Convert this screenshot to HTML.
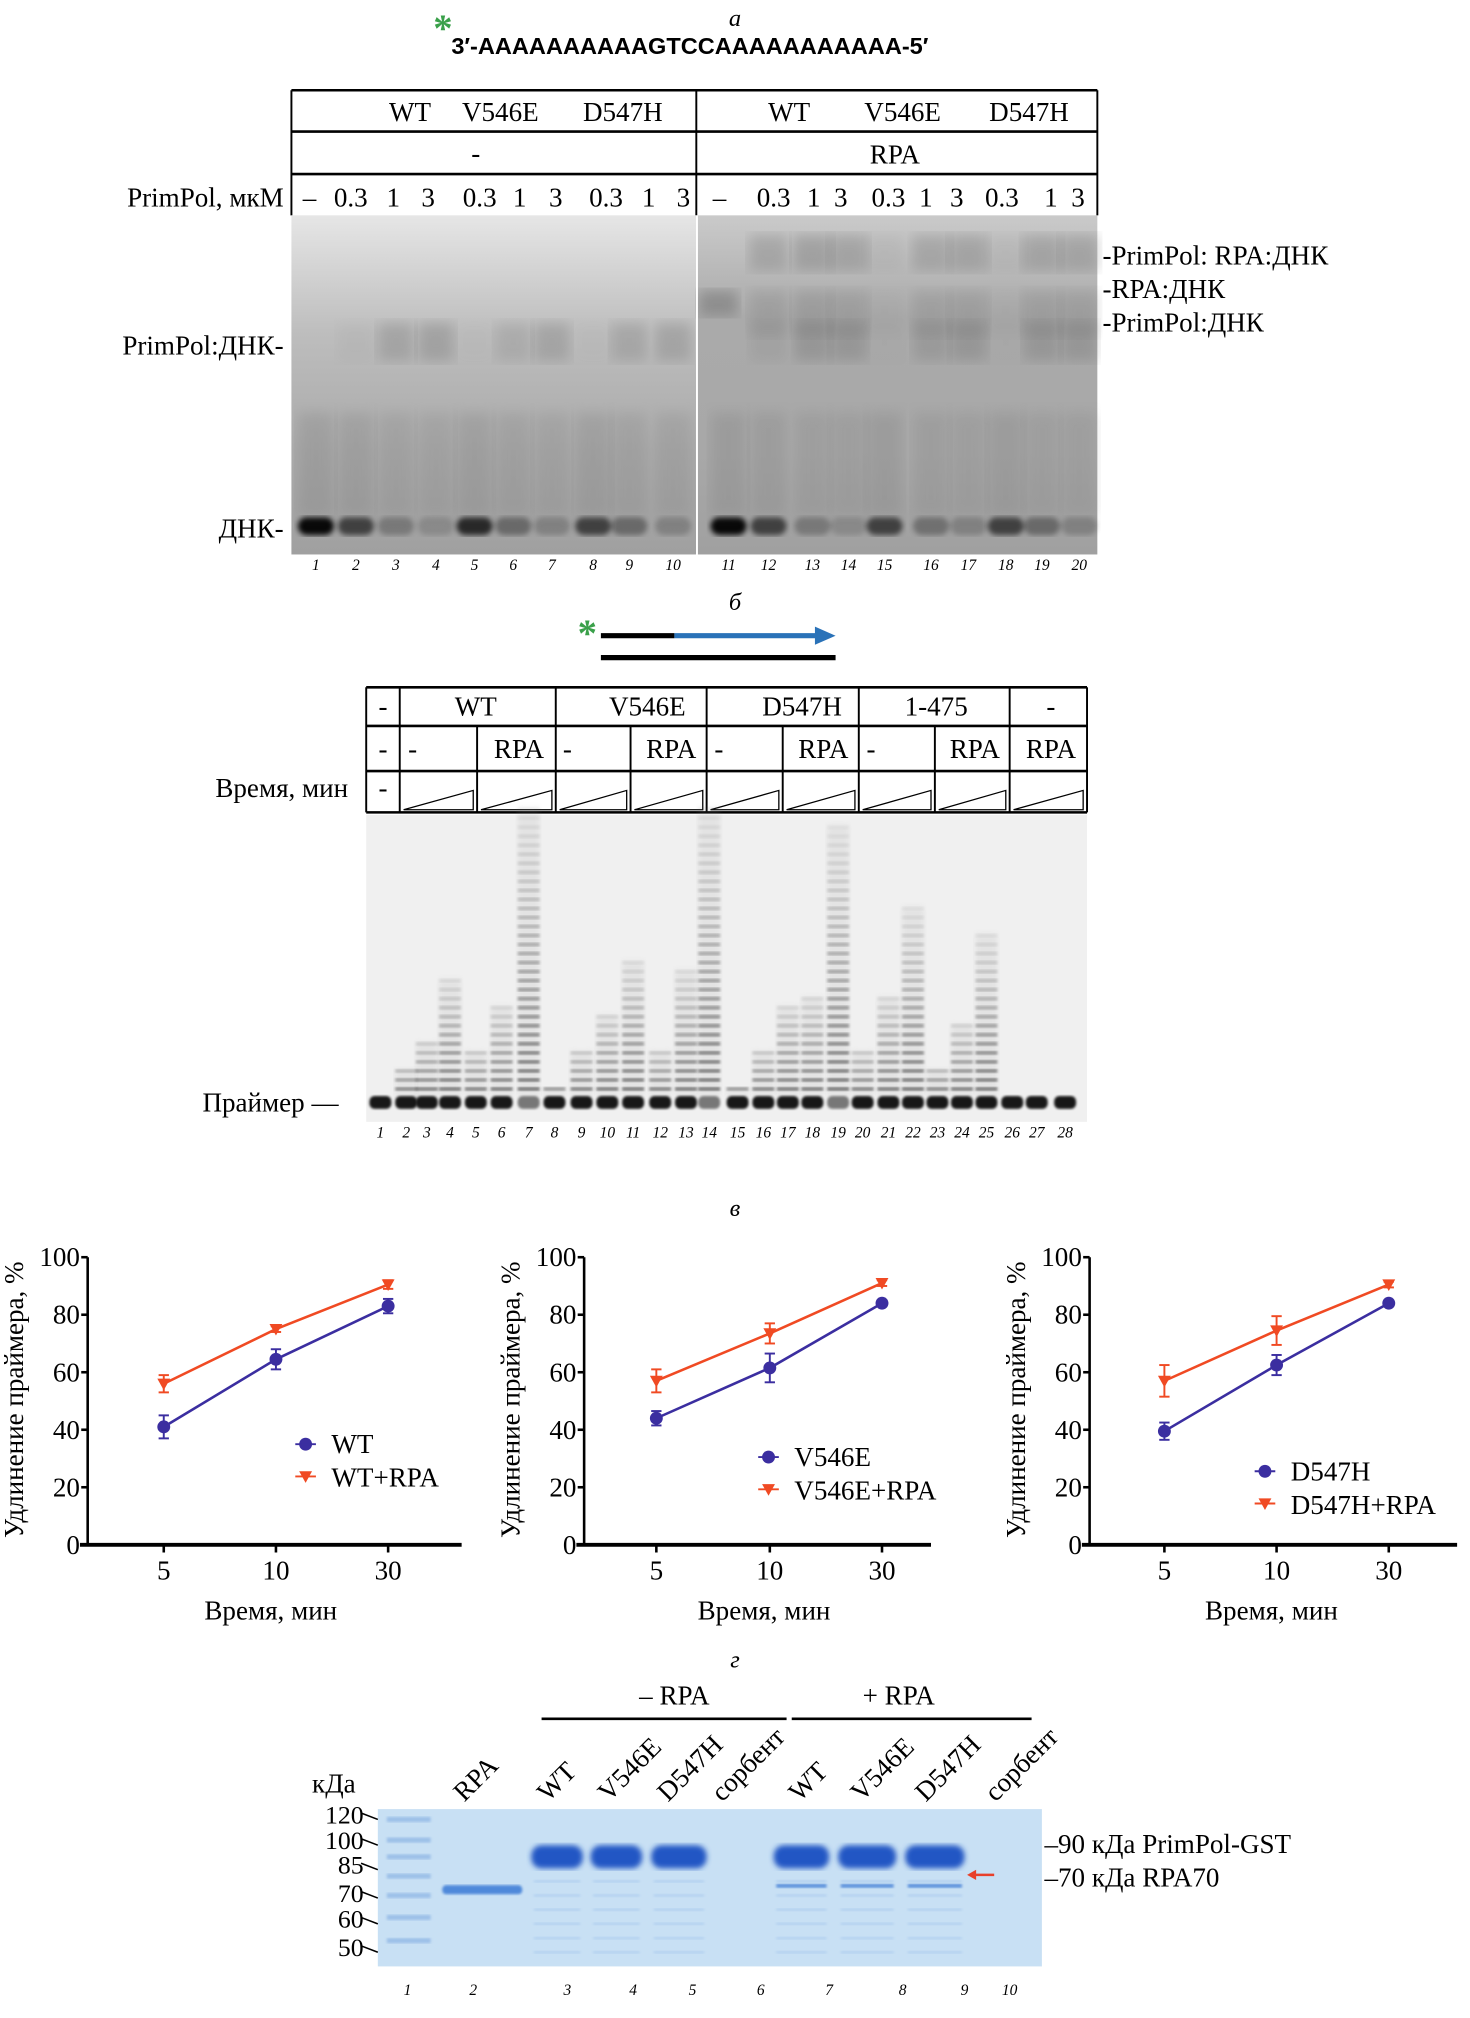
<!DOCTYPE html>
<html><head><meta charset="utf-8">
<style>
html,body{margin:0;padding:0;background:#fff;}
svg{display:block;font-family:"Liberation Serif","Noto Serif CJK SC",serif;}
</style></head>
<body>
<svg id="fig" width="1470" height="2018" viewBox="0 0 1140 1565" preserveAspectRatio="none" xmlns="http://www.w3.org/2000/svg">
<defs>
<filter id="bl2"><feGaussianBlur stdDeviation="2"/></filter>
<filter id="bl4"><feGaussianBlur stdDeviation="5"/></filter>
<filter id="bl1"><feGaussianBlur stdDeviation="1"/></filter>
<linearGradient id="gelA" x1="0" y1="0" x2="0" y2="1">
<stop offset="0" stop-color="#e6e6e6"/><stop offset="0.35" stop-color="#bdbdbd"/><stop offset="0.7" stop-color="#aaaaaa"/><stop offset="1" stop-color="#a0a0a0"/></linearGradient>
<linearGradient id="gelA2" x1="0" y1="0" x2="0" y2="1">
<stop offset="0" stop-color="#cacaca"/><stop offset="0.3" stop-color="#aaaaaa"/><stop offset="0.7" stop-color="#a8a8a8"/><stop offset="1" stop-color="#a0a0a0"/></linearGradient>
</defs>

<!-- PANEL A -->
<g>
<text x="570" y="20" font-size="19" font-style="italic" text-anchor="middle">а</text>
<text x="336" y="32" font-size="30" fill="#3aa04a" font-weight="bold">*</text>
<text x="350" y="42" font-size="18" font-weight="bold" font-family="Liberation Sans Narrow, Liberation Sans, sans-serif" textLength="370" lengthAdjust="spacingAndGlyphs">3′-AAAAAAAAAAGTCCAAAAAAAAAAA-5′</text>
<g stroke="#000" stroke-width="1.5">
<line x1="226" y1="70" x2="851" y2="70" stroke-width="2"/>
<line x1="226" y1="102" x2="851" y2="102" stroke-width="2"/>
<line x1="226" y1="135" x2="851" y2="135" stroke-width="2"/>
<line x1="226" y1="70" x2="226" y2="167"/>
<line x1="540" y1="70" x2="540" y2="167"/>
<line x1="851" y1="70" x2="851" y2="167"/>
</g>
<g font-size="21" text-anchor="middle">
<text x="318" y="94">WT</text><text x="388" y="94">V546E</text><text x="483" y="94">D547H</text>
<text x="612" y="94">WT</text><text x="700" y="94">V546E</text><text x="798" y="94">D547H</text>
<text x="369" y="126">-</text><text x="694" y="127">RPA</text>
</g>
<text x="220" y="160" font-size="21" text-anchor="end">PrimPol, мкМ</text>
<g font-size="21" text-anchor="middle" id="concRow"></g>
<rect x="226" y="167" width="314" height="263" fill="url(#gelA)"/>
<rect x="541" y="167" width="310" height="263" fill="url(#gelA2)"/>
<g id="gelAmarks"></g>
<line x1="540.5" y1="167" x2="540.5" y2="430" stroke="#fff" stroke-width="1.5"/>
<g font-size="21">
<text x="220" y="275" text-anchor="end">PrimPol:ДНК-</text>
<text x="220" y="417" text-anchor="end">ДНК-</text>
<text x="855" y="205">-PrimPol: RPA:ДНК</text>
<text x="855" y="231">-RPA:ДНК</text>
<text x="855" y="257">-PrimPol:ДНК</text>
</g>
<g id="laneNumsA" font-size="12" font-style="italic" text-anchor="middle"></g>
</g>

<!-- PANEL B -->
<g>
<text x="570" y="473" font-size="19" font-style="italic" text-anchor="middle">б</text>
<text x="448" y="501" font-size="30" fill="#3aa04a" font-weight="bold">*</text>
<line x1="466" y1="493" x2="523" y2="493" stroke="#000" stroke-width="4"/>
<line x1="523" y1="493" x2="636" y2="493" stroke="#2a72b8" stroke-width="4"/>
<polygon points="632,486 648,493 632,500" fill="#2a72b8"/>
<line x1="466" y1="510" x2="648" y2="510" stroke="#000" stroke-width="4"/>
<g stroke="#000" stroke-width="1.5" id="tableB">
<line x1="284" y1="533" x2="843" y2="533" stroke-width="2"/>
<line x1="284" y1="563" x2="843" y2="563" stroke-width="2"/>
<line x1="284" y1="598" x2="843" y2="598" stroke-width="2"/>
<line x1="284" y1="630" x2="843" y2="630" stroke-width="2"/>
</g>
<g font-size="21" text-anchor="middle" id="tableBtext">
<text x="297" y="555">-</text><text x="369" y="555">WT</text><text x="502" y="555">V546E</text><text x="622" y="555">D547H</text><text x="726" y="555">1-475</text><text x="815" y="555">-</text>
</g>
<text x="270" y="618" font-size="21" text-anchor="end">Время, мин</text>
<rect x="284" y="632" width="559" height="238" fill="#f0f0f0"/>
<g id="gelBmarks"></g>
<text x="157" y="862" font-size="21">Праймер —</text>
<g id="laneNumsB" font-size="12" font-style="italic" text-anchor="middle"></g>
</g>

<!-- PANEL C charts -->
<text x="570" y="943" font-size="19" font-style="italic" text-anchor="middle">в</text>
<g id="charts"></g>

<!-- PANEL D -->
<g>
<text x="570" y="1293" font-size="19" font-style="italic" text-anchor="middle">г</text>
<text x="523" y="1322" font-size="21" text-anchor="middle">– RPA</text>
<text x="697" y="1322" font-size="21" text-anchor="middle">+ RPA</text>
<line x1="420" y1="1333" x2="610" y2="1333" stroke="#000" stroke-width="2"/>
<line x1="614" y1="1333" x2="800" y2="1333" stroke="#000" stroke-width="2"/>
<g font-size="21" id="rotLabels"></g>
<text x="242" y="1390" font-size="21">кДа</text>
<rect x="293" y="1403" width="515" height="122" fill="#c8e0f4"/>
<g id="gelDmarks"></g>
<g font-size="20" text-anchor="end" id="mwLabels"></g>
<line x1="752" y1="1454" x2="771" y2="1454" stroke="#e8402a" stroke-width="2"/>
<polygon points="750,1454 757,1450 757,1458" fill="#e8402a"/>
<text x="810" y="1437" font-size="21">–90 кДа PrimPol-GST</text>
<text x="810" y="1463" font-size="21">–70 кДа RPA70</text>
<g id="laneNumsD" font-size="12" font-style="italic" text-anchor="middle"></g>
</g>
</svg>

<script>
// ===== Chart data =====
var timeLabels = ["5", "10", "30"];
var yTicks = [0, 20, 40, 60, 80, 100];
var seriesNames = ["WT", "WT+RPA", "V546E", "V546E+RPA", "D547H", "D547H+RPA"];
var wtValues = [41, 64.5, 83];
var wtErrors = [4, 3.5, 2.5];
var wtRpaValues = [56, 75, 90.5];
var wtRpaErrors = [3, 1, 1.5];
var v546eValues = [44, 61.5, 84];
var v546eErrors = [2.5, 5, 1];
var v546eRpaValues = [57, 73.5, 91];
var v546eRpaErrors = [4, 3.5, 1];
var d547hValues = [39.5, 62.5, 84];
var d547hErrors = [3, 3.5, 1];
var d547hRpaValues = [57, 74.5, 90.5];
var d547hRpaErrors = [5.5, 5, 1];

var NS = "http://www.w3.org/2000/svg";
function mk(tag, parent, attrs) {
  var e = document.createElementNS(NS, tag);
  for (var k in attrs) e.setAttribute(k, attrs[k]);
  parent.appendChild(e);
  return e;
}
function txt(parent, x, y, s, size, anchor, extra) {
  var t = mk("text", parent, {x: x, y: y, "font-size": size, "text-anchor": anchor || "start"});
  if (extra) for (var k in extra) t.setAttribute(k, extra[k]);
  t.textContent = s;
  return t;
}

// ===== Panel A details =====
var concA = [["–",240],["0.3",272],["1",305],["3",332],["0.3",372],["1",403],["3",431],["0.3",470],["1",503],["3",530],
             ["–",558],["0.3",600],["1",631],["3",652],["0.3",689],["1",718],["3",742],["0.3",777],["1",815],["3",836]];
var cr = document.getElementById("concRow");
concA.forEach(function (c) { txt(cr, c[1], 160, c[0], 21, "middle"); });
var lanesA = [245,276,307,338,368,398,428,460,488,522,565,596,630,658,686,722,751,780,808,837];
var dnaA = [0.95,0.6,0.25,0.15,0.75,0.35,0.2,0.6,0.35,0.2, 0.95,0.6,0.25,0.15,0.6,0.3,0.2,0.6,0.35,0.2];
var compA = [0,0.1,0.5,0.55,0.05,0.35,0.5,0.05,0.45,0.5, 0,0.2,0.5,0.5,0.05,0.4,0.5,0.05,0.5,0.5];
var rpaTop = [0,0,0,0,0,0,0,0,0,0, 0,0.5,0.6,0.55,0.15,0.5,0.55,0.15,0.55,0.55];
var gA = document.getElementById("gelAmarks");
lanesA.forEach(function (x, i) {
  mk("rect", gA, {x: x-14, y: 401, width: 28, height: 14, rx: 7, fill: "#000", opacity: dnaA[i], filter: "url(#bl2)"});
  mk("rect", gA, {x: x-14, y: 320, width: 28, height: 80, fill: "#666", opacity: 0.1 + 0.08*(1-compA[i]), filter: "url(#bl4)"});
  mk("rect", gA, {x: x-14, y: 250, width: 28, height: 30, fill: "#555", opacity: compA[i]*0.45, filter: "url(#bl4)"});
  if (rpaTop[i] > 0) {
    mk("rect", gA, {x: x-15, y: 182, width: 30, height: 28, fill: "#555", opacity: rpaTop[i]*0.45, filter: "url(#bl4)"});
    mk("rect", gA, {x: x-15, y: 225, width: 30, height: 35, fill: "#555", opacity: rpaTop[i]*0.3, filter: "url(#bl4)"});
  }
  txt(document.getElementById("laneNumsA"), x, 442, String(i+1), 12, "middle");
});
mk("rect", gA, {x: 542, y: 225, width: 30, height: 20, fill: "#444", opacity: 0.3, filter: "url(#bl4)"});

// ===== Panel B table =====
var tB = document.getElementById("tableB");
var vlinesFull = [284, 310, 431, 548, 666, 783, 843];
vlinesFull.forEach(function (x) { mk("line", tB, {x1: x, y1: 533, x2: x, y2: 630}); });
var subLines = [370, 489, 607, 725];
subLines.forEach(function (x) { mk("line", tB, {x1: x, y1: 563, x2: x, y2: 630}); });
var cells = [[310,370],[370,431],[431,489],[489,548],[548,607],[607,666],[666,725],[725,783],[783,843]];
var row2 = ["-","RPA","-","RPA","-","RPA","-","RPA","RPA"];
var tBt = document.getElementById("tableBtext");
txt(tBt, 297, 588, "-", 21, "middle");
txt(tBt, 297, 618, "-", 21, "middle");
cells.forEach(function (c, i) {
  txt(tBt, (c[0]+c[1])/2 + (row2[i]==="-"? -20:2), 588, row2[i], 21, "middle");
  mk("polygon", tB, {points: (c[0]+3)+",628 "+(c[1]-3)+",628 "+(c[1]-3)+",613", fill: "none", "stroke-width": 1});
});
// ===== Panel B gel =====
var lanesB = [295,315,331,349,369,389,410,430,451,471,491,512,532,550,572,592,611,630,650,669,689,708,727,746,765,785,804,826];
var extB = [0,25,45,95,35,75,225,12,35,65,110,40,100,230,12,35,70,80,215,35,80,150,25,60,130,0,0,0];
var gB = document.getElementById("gelBmarks");
lanesB.forEach(function (x, i) {
  var w = 17;
  mk("rect", gB, {x: x-w/2, y: 850, width: w, height: 10, rx: 4, fill: "#000", opacity: extB[i] > 150 ? 0.5 : 0.9, filter: "url(#bl1)"});
  var n = Math.floor(extB[i]/7);
  if (n > 0) mk("rect", gB, {x: x-w/2, y: 850 - n*7, width: w, height: n*7, fill: "#888", opacity: 0.12, filter: "url(#bl2)"});
  for (var k = 1; k <= n; k++) {
    var op = 0.55 * (1 - k/(n+2));
    mk("rect", gB, {x: x-w/2, y: 850 - k*7, width: w, height: 3, fill: "#222", opacity: op, filter: "url(#bl1)"});
  }
  txt(document.getElementById("laneNumsB"), x, 882, String(i+1), 12, "middle");
});

// ===== Panel C charts =====
var charts = [
  {x0: 68, ticks: [127, 214, 301], xEnd: 358, s1: wtValues, e1: wtErrors, s2: wtRpaValues, e2: wtRpaErrors, n1: seriesNames[0], n2: seriesNames[1], lx: 237, ly: 1120},
  {x0: 453, ticks: [509, 597, 684], xEnd: 722, s1: v546eValues, e1: v546eErrors, s2: v546eRpaValues, e2: v546eRpaErrors, n1: seriesNames[2], n2: seriesNames[3], lx: 596, ly: 1130},
  {x0: 845, ticks: [903, 990, 1077], xEnd: 1130, s1: d547hValues, e1: d547hErrors, s2: d547hRpaValues, e2: d547hRpaErrors, n1: seriesNames[4], n2: seriesNames[5], lx: 981, ly: 1141}
];
var Y0 = 1198, Y100 = 975;
function yS(v) { return Y0 - (Y0 - Y100) * v / 100; }
var chartsG = document.getElementById("charts");
charts.forEach(function (c, ci) {
  var g = mk("g", chartsG, {});
  
  
  function xS(i) { return c.ticks[i]; }
  mk("line", g, {x1: c.x0, y1: Y100, x2: c.x0, y2: Y0, stroke: "#000", "stroke-width": 2});
  mk("line", g, {x1: c.x0 - 6, y1: Y0, x2: c.xEnd, y2: Y0, stroke: "#000", "stroke-width": 3});
  yTicks.forEach(function (t) {
    mk("line", g, {x1: c.x0 - 5, y1: yS(t), x2: c.x0, y2: yS(t), stroke: "#000", "stroke-width": 2});
    var l = txt(g, c.x0 - 6, yS(t) + 7, String(t), 21, "end");
    
    
  });
  timeLabels.forEach(function (t, i) {
    mk("line", g, {x1: xS(i), y1: Y0, x2: xS(i), y2: Y0 + 6, stroke: "#000", "stroke-width": 2});
    var l = txt(g, xS(i), 1225, t, 21, "middle");
    
    
  });
  var xt = txt(g, (c.ticks[0] + c.ticks[2]) / 2 - 4, 1256, "Время, мин", 21, "middle");
  
  
  var yt = txt(g, 0, 0, "Удлинение праймера, %", 21, "middle", {transform: "translate(" + (c.x0 - 50) + "," + ((Y0 + Y100) / 2 - 1) + ") rotate(-90)"});
  
  
  [[c.s2, c.e2, "#f04a23", "tri"], [c.s1, c.e1, "#3b2ea0", "circ"]].forEach(function (sd) {
    var pts = sd[0].map(function (v, i) { return xS(i) + "," + yS(v); }).join(" ");
    var pl = mk("polyline", g, {points: pts, fill: "none", stroke: sd[2], "stroke-width": 2});
    
    
    sd[0].forEach(function (v, i) {
      var x = xS(i), e = sd[1][i];
      mk("line", g, {x1: x, y1: yS(v + e), x2: x, y2: yS(v - e), stroke: sd[2], "stroke-width": 1.5});
      mk("line", g, {x1: x - 4, y1: yS(v + e), x2: x + 4, y2: yS(v + e), stroke: sd[2], "stroke-width": 1.5});
      mk("line", g, {x1: x - 4, y1: yS(v - e), x2: x + 4, y2: yS(v - e), stroke: sd[2], "stroke-width": 1.5});
      var m;
      if (sd[3] === "circ") m = mk("circle", g, {cx: x, cy: yS(v), r: 5, fill: sd[2]});
      else m = mk("polygon", g, {points: (x - 5) + "," + (yS(v) - 4) + " " + (x + 5) + "," + (yS(v) - 4) + " " + x + "," + (yS(v) + 5), fill: sd[2]});
      
      
    });
  });
  var lg = mk("g", g, {});
  
  
  mk("circle", lg, {cx: c.lx, cy: c.ly, r: 5, fill: "#3b2ea0"});
  mk("line", lg, {x1: c.lx - 8, y1: c.ly, x2: c.lx + 8, y2: c.ly, stroke: "#3b2ea0", "stroke-width": 1.5});
  txt(lg, c.lx + 20, c.ly + 7, c.n1, 21, "start");
  mk("polygon", lg, {points: (c.lx - 5) + "," + (c.ly + 21) + " " + (c.lx + 5) + "," + (c.ly + 21) + " " + c.lx + "," + (c.ly + 30), fill: "#f04a23"});
  mk("line", lg, {x1: c.lx - 8, y1: c.ly + 25, x2: c.lx + 8, y2: c.ly + 25, stroke: "#f04a23", "stroke-width": 1.5});
  txt(lg, c.lx + 20, c.ly + 33, c.n2, 21, "start");
});

// ===== Panel D =====
var rot = [["RPA",360],["WT",425],["V546E",472],["D547H",518],["сорбент",560],["WT",620],["V546E",668],["D547H",718],["сорбент",772]];
var rg = document.getElementById("rotLabels");
rot.forEach(function (r) { txt(rg, 0, 0, r[0], 21, "start", {transform: "translate(" + r[1] + ",1398) rotate(-45)"}); });
var mw = [["120",1414],["100",1434],["85",1453],["70",1475],["60",1495],["50",1517]];
var mg = document.getElementById("mwLabels");
mw.forEach(function (m) {
  txt(mg, 282, m[1], m[0], 20, "end");
  mk("line", mg, {x1: 280, y1: m[1] - 8, x2: 293, y2: m[1] - 3, stroke: "#000", "stroke-width": 1.2});
});
var gD = document.getElementById("gelDmarks");
[1411,1427,1440,1455,1470,1487,1505].forEach(function (y) {
  mk("rect", gD, {x: 300, y: y - 2, width: 34, height: 4, fill: "#9cc0e8", filter: "url(#bl1)"});
});
mk("rect", gD, {x: 343, y: 1462, width: 62, height: 7, rx: 3, fill: "#3a7ad6", opacity: 0.85, filter: "url(#bl1)"});
[[412,452],[458,498],[505,548],[600,643],[650,695],[702,748]].forEach(function (l, i) {
  mk("rect", gD, {x: l[0], y: 1431, width: l[1]-l[0], height: 18, rx: 8, fill: "#2357c4", filter: "url(#bl2)"});
  for (var k = 0; k < 6; k++) mk("rect", gD, {x: l[0]+2, y: 1458 + k*11, width: l[1]-l[0]-4, height: 2, fill: "#a4c6ec", opacity: 0.6, filter: "url(#bl1)"});
  if (i >= 3) mk("rect", gD, {x: l[0]+2, y: 1461, width: l[1]-l[0]-4, height: 3, fill: "#5a90dc", filter: "url(#bl1)"});
});
var lanesD = [316,367,440,491,537,590,643,700,748,783];
lanesD.forEach(function (x, i) { txt(document.getElementById("laneNumsD"), x, 1547, String(i+1), 12, "middle"); });
</script>
</body></html>
